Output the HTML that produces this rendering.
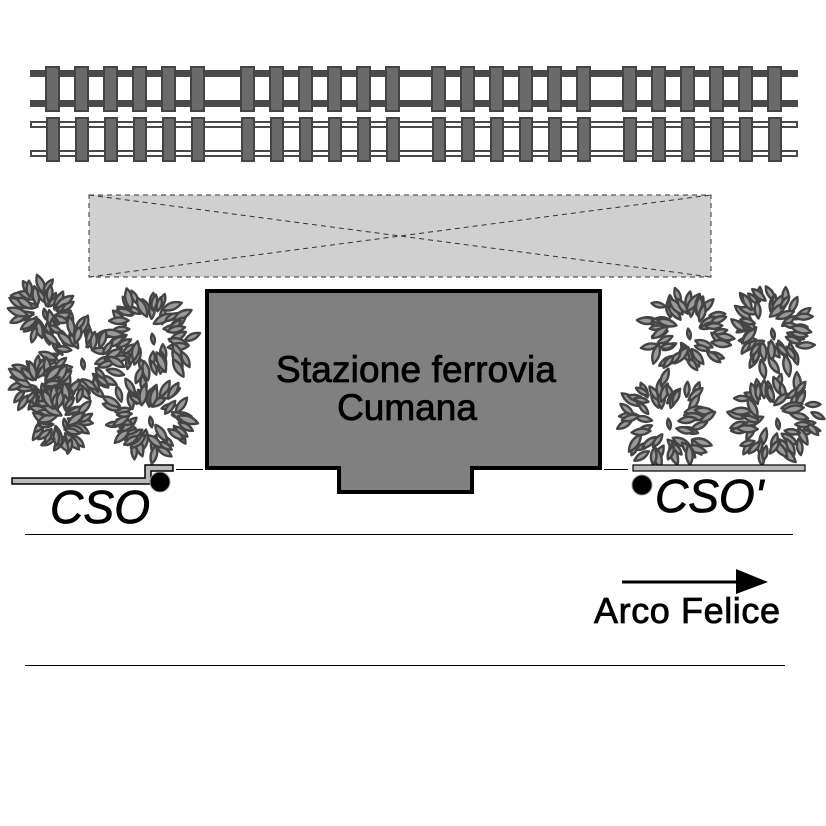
<!DOCTYPE html>
<html><head><meta charset="utf-8"><style>html,body{margin:0;padding:0;background:#fff}svg{display:block}</style></head>
<body>
<svg id="s" width="826" height="826" viewBox="0 0 826 826" xmlns="http://www.w3.org/2000/svg" font-family="Liberation Sans, Arial, sans-serif">
<rect width="826" height="826" fill="#fff"/>
<g id="tracks"></g>
<rect x="89" y="195" width="622" height="82" fill="#d0d0d0" stroke="#333" stroke-width="1" stroke-dasharray="5,4"/>
<line x1="89" y1="195" x2="711" y2="277" stroke="#333" stroke-width="1" stroke-dasharray="5,4"/>
<line x1="89" y1="277" x2="711" y2="195" stroke="#333" stroke-width="1" stroke-dasharray="5,4"/>
<g id="bush"></g>
<path d="M207,291 H600 V468 H472 V492 H339 V468 H207 Z" fill="#808080" stroke="#000" stroke-width="4"/>
<g fill="#000" stroke="#000" stroke-width="0.8">
<text x="416" y="382" font-size="37" text-anchor="middle" textLength="280">Stazione ferrovia</text>
<text x="407" y="420" font-size="37" text-anchor="middle">Cumana</text>
<text x="50" y="523" font-size="46" font-style="italic" textLength="100">CSO</text>
<text x="655" y="512" font-size="46" font-style="italic">CSO'</text>
<text x="594" y="623" font-size="36" textLength="186">Arco Felice</text>
</g>
<path d="M12,478 H145 V465 H173 V471 H151 V484 H12 Z" fill="#bbb" stroke="#000" stroke-width="1.5"/>
<rect x="633" y="465" width="172" height="6" fill="#bbb" stroke="#000" stroke-width="1.2"/>
<line x1="176" y1="469.5" x2="203" y2="469.5" stroke="#000" stroke-width="1"/>
<line x1="604" y1="469.5" x2="628" y2="469.5" stroke="#000" stroke-width="1"/>
<circle cx="160" cy="482" r="10" fill="#000" stroke="#999" stroke-width="1"/>
<circle cx="642" cy="485" r="10" fill="#000" stroke="#999" stroke-width="1"/>
<line x1="25" y1="534.5" x2="793" y2="534.5" stroke="#000" stroke-width="1"/>
<line x1="25" y1="665.5" x2="785" y2="665.5" stroke="#000" stroke-width="1"/>
<line x1="622" y1="582" x2="742" y2="582" stroke="#000" stroke-width="3"/>
<path d="M736,569 L768,582 L736,594 Z" fill="#000"/>
</svg>
<script>
var NS="http://www.w3.org/2000/svg";
function el(p,t,a){var e=document.createElementNS(NS,t);for(var k in a)e.setAttribute(k,a[k]);p.appendChild(e);return e;}
var tr=document.getElementById("tracks");
var xs=[];
[46,241,432,623].forEach(function(s){for(var i=0;i<6;i++)xs.push(s+i*29);});
el(tr,"rect",{x:30,y:70,width:768,height:7,fill:"#4a4a4a"});
el(tr,"rect",{x:30,y:100,width:768,height:7,fill:"#4a4a4a"});
xs.forEach(function(x){el(tr,"rect",{x:x,y:67,width:13,height:44,fill:"#6a6a6a",stroke:"#444","stroke-width":2});});
el(tr,"rect",{x:31,y:122,width:766,height:5,fill:"#fff",stroke:"#4a4a4a","stroke-width":2});
el(tr,"rect",{x:31,y:151,width:766,height:5,fill:"#fff",stroke:"#4a4a4a","stroke-width":2});
xs.forEach(function(x){el(tr,"rect",{x:x+1,y:118,width:12,height:43,fill:"#6a6a6a",stroke:"#444","stroke-width":2});});
var b=document.getElementById("bush");
var seed=7;function rnd(){seed=(seed*9301+49297)%233280;return seed/233280;}
var rings=[[42,310,24],[150,335,38],[80,360,36],[40,385,22],[62,420,24],[148,418,36],
[686,330,36],[770,330,36],[666,420,38],[775,420,38]];
function leaf(x,y,ang,s){
 var d="M"+(-9*s)+",0 Q0,"+(-6*s)+" "+(9*s)+",0 Q0,"+(6*s)+" "+(-9*s)+",0Z";
 el(b,"path",{d:d,fill:"#999",stroke:"#444","stroke-width":2.4,"stroke-linejoin":"round",transform:"translate("+x.toFixed(1)+" "+y.toFixed(1)+") rotate("+ang.toFixed(0)+")"});
}
rings.forEach(function(r){
 var n=Math.round(r[2]*1.1)+12;
 for(var i=0;i<n;i++){
  var a=i/n*Math.PI*2+rnd()*0.3;
  var rr=r[2]*(0.55+rnd()*0.6);
  var x=r[0]+Math.cos(a)*rr,y=r[1]+Math.sin(a)*rr;
  leaf(x,y,a*180/Math.PI+rnd()*70-35,0.8+rnd()*0.4);
 }
 leaf(r[0]+3,r[1]+4,80,0.6);
});
</script>
</body></html>
